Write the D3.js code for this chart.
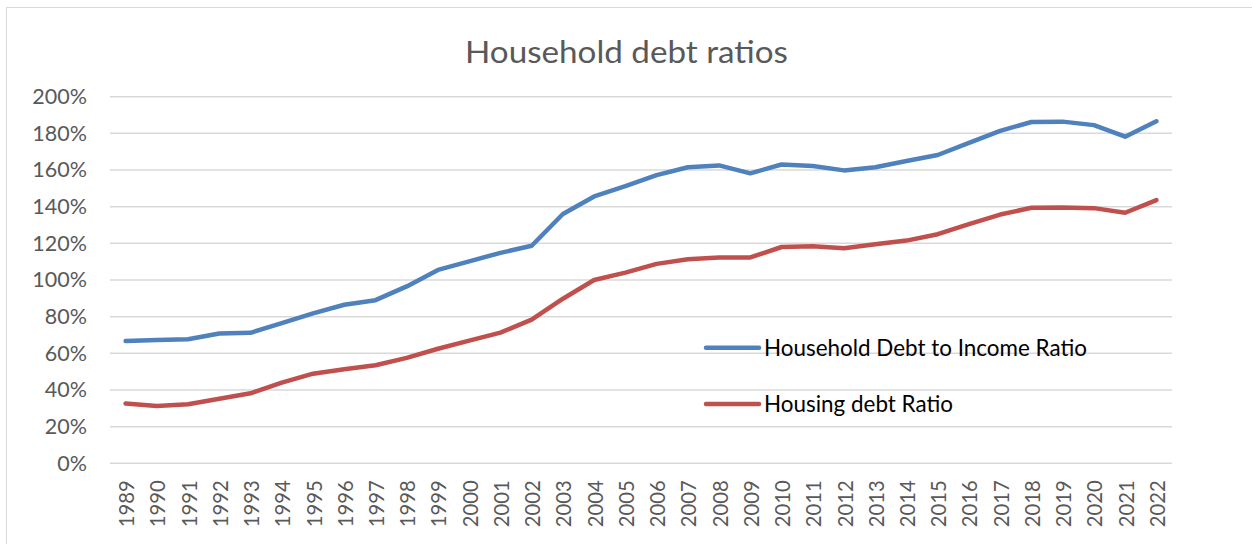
<!DOCTYPE html>
<html>
<head>
<meta charset="utf-8">
<script src="https://cdn.jsdelivr.net/npm/d3@7"></script>
<style>
  html, body { margin: 0; padding: 0; background: #fff; }
  svg { display: block; font-family: Lato, "Open Sans", sans-serif; }
</style>
</head>
<body>
<svg id="chart" width="1252" height="544"></svg>
<script>
// Years on the category axis
const years = [
  "1989","1990","1991","1992","1993","1994","1995","1996","1997","1998",
  "1999","2000","2001","2002","2003","2004","2005","2006","2007","2008",
  "2009","2010","2011","2012","2013","2014","2015","2016","2017","2018",
  "2019","2020","2021","2022"
];

// Household debt to income ratio (%)
const debtToIncome = [
  66.7, 67.3, 67.7, 70.8, 71.2, 76.5, 81.8, 86.5, 89.0, 96.5,
  105.5, 110.2, 114.8, 118.7, 136.0, 145.6, 151.2, 157.2, 161.5, 162.5,
  158.2, 163.0, 162.2, 159.8, 161.5, 164.9, 168.2, 174.8, 181.4, 186.2,
  186.4, 184.5, 178.2, 186.6
];

// Housing debt ratio (%)
const housingDebt = [
  32.6, 31.3, 32.2, 35.2, 38.2, 44.0, 48.9, 51.3, 53.5, 57.5,
  62.5, 66.9, 71.3, 78.4, 89.8, 100.0, 104.0, 108.8, 111.3, 112.3,
  112.3, 118.0, 118.4, 117.3, 119.5, 121.5, 125.0, 130.5, 135.7, 139.4,
  139.6, 139.2, 136.7, 143.6
];

const yTicks = [0, 20, 40, 60, 80, 100, 120, 140, 160, 180, 200];

const seriesNames = ["Household Debt to Income Ratio", "Housing debt Ratio"];
const seriesColors = ["#4f81bd", "#c0504d"];

const svg = d3.select("#chart");

// Chart frame
svg.append("rect")
  .attr("x", 6.5).attr("y", 7.5)
  .attr("width", 1300).attr("height", 600)
  .attr("fill", "#fff")
  .attr("stroke", "#d9d9d9").attr("stroke-width", 1);

const plot = { left: 110, right: 1172, top: 96.7, bottom: 463.3 };

const x = d3.scaleBand().domain(years).range([plot.left, plot.right]);
const y = d3.scaleLinear().domain([0, 200]).range([plot.bottom, plot.top]);

// Horizontal gridlines
svg.append("g")
  .selectAll("line")
  .data(yTicks)
  .join("line")
  .attr("x1", plot.left).attr("x2", plot.right)
  .attr("y1", d => y(d)).attr("y2", d => y(d))
  .attr("stroke", "#d9d9d9").attr("stroke-width", 1.5);

// Value axis labels
const yAxis = svg.append("g")
  .attr("transform", `translate(${plot.left},0)`)
  .call(d3.axisLeft(y).tickValues(yTicks).tickFormat(d => d + "%").tickSize(0).tickPadding(23));
yAxis.select(".domain").remove();
yAxis.selectAll("text")
  .style("font-size", "21.5px")
  .style("font-family", "Lato, 'Open Sans', sans-serif")
  .attr("fill", "#595959");

// Category axis labels, turned upright
const xAxis = svg.append("g")
  .attr("transform", `translate(0,${plot.bottom})`)
  .call(d3.axisBottom(x).tickSize(0));
xAxis.select(".domain").remove();
xAxis.selectAll("text")
  .style("font-size", "21px")
  .style("font-family", "Lato, 'Open Sans', sans-serif")
  .attr("fill", "#595959")
  .attr("text-anchor", "end")
  .attr("dominant-baseline", "central")
  .attr("dy", null)
  .attr("y", 0)
  .attr("x", 0)
  .attr("textLength", 47)
  .attr("lengthAdjust", "spacingAndGlyphs")
  .attr("transform", "translate(0,17) rotate(-90)");

// Lines
const line = d3.line()
  .x((d, i) => x(years[i]) + x.bandwidth() / 2)
  .y(d => y(d));

[debtToIncome, housingDebt].forEach((vals, i) => {
  svg.append("path")
    .datum(vals)
    .attr("d", line)
    .attr("fill", "none")
    .attr("stroke", seriesColors[i])
    .attr("stroke-width", 4.5)
    .attr("stroke-linejoin", "round")
    .attr("stroke-linecap", "round");
});

// Title
svg.append("text")
  .attr("x", 626.5).attr("y", 62.7)
  .attr("text-anchor", "middle")
  .attr("fill", "#595959")
  .style("font-size", "31.5px")
  .attr("textLength", 323)
  .attr("lengthAdjust", "spacingAndGlyphs")
  .text("Household debt ratios");

// Legend
const legendRows = [347.7, 404];
const legendWidths = [323, 189];
const legend = svg.append("g");
seriesNames.forEach((name, i) => {
  const cy = legendRows[i];
  legend.append("line")
    .attr("x1", 706).attr("x2", 759)
    .attr("y1", cy).attr("y2", cy)
    .attr("stroke", seriesColors[i])
    .attr("stroke-width", 4.5)
    .attr("stroke-linecap", "round");
  legend.append("text")
    .attr("x", 764).attr("y", cy)
    .attr("dy", "0.35em")
    .attr("fill", "#000")
    .style("font-size", "23px")
    .attr("textLength", legendWidths[i])
    .attr("lengthAdjust", "spacingAndGlyphs")
    .text(name);
});
</script>
</body>
</html>
